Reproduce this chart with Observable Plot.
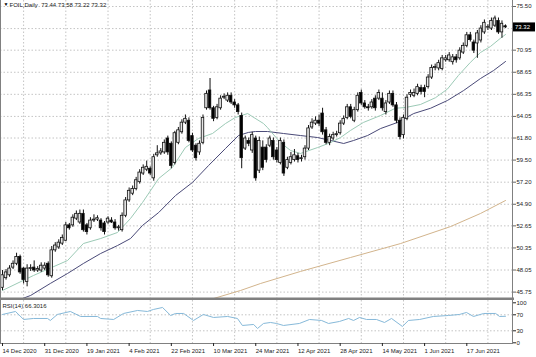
<!DOCTYPE html>
<html><head><meta charset="utf-8">
<script src="https://cdn.jsdelivr.net/npm/d3@7"></script>
<script src="https://cdn.jsdelivr.net/npm/@observablehq/plot@0.6"></script>
<style>
html,body{margin:0;padding:0;background:#fff;}
#wrap{position:relative;width:536px;height:357px;overflow:hidden;background:#fff;}
#wrap svg{display:block;}
</style></head><body><div id="wrap"></div>
<script>
// ---- data ----
const symbolTitle = "FOIL,Daily  73.44 73.58 73.22 73.32";
const rsiTitle = "RSI(14) 66.3016";
const opens = [46.2,47.2,47.5,48.3,48.7,49.4,48.2,46.8,48.15,48.3,48.0,48.0,48.2,48.7,47.4,50.1,50.4,50.8,51.1,52.7,
52.7,53.4,53.0,53.9,52.7,52.4,53.2,53.3,53.2,52.9,53.0,53.2,53.0,52.4,52.2,53.7,55.3,56.0,56.5,57.2,
58.1,58.5,58.6,57.6,60.0,60.2,60.3,61.75,61.2,59.2,61.3,62.4,63.4,63.6,62.0,61.0,60.3,61.3,64.9,66.75,
64.9,63.9,64.9,66.0,65.7,66.2,65.5,65.2,64.1,60.7,61.5,60.5,61.75,58.4,60.8,60.8,61.0,61.5,60.5,59.2,
61.3,58.7,59.2,59.5,59.9,59.6,59.8,60.7,62.9,63.3,63.6,64.35,62.6,61.3,61.75,62.1,62.3,63.3,63.9,65.0,
63.6,64.7,66.5,65.4,65.0,65.0,65.9,65.9,65.9,64.5,65.5,66.4,65.2,63.6,62.1,63.8,66.3,66.2,66.4,67.0,
67.0,67.1,68.1,69.1,69.05,69.0,69.9,69.9,69.7,70.2,70.1,70.7,71.4,72.5,71.75,71.65,71.96,72.8,73.3,73.2,
73.5,74.0,72.8,73.44];
const highs = [48.0,48.1,48.5,49.0,49.8,49.6,48.3,48.6,48.6,49.0,48.4,48.8,48.8,48.9,50.5,50.9,51.2,51.7,53.0,52.9,
53.8,54.2,54.3,54.3,52.9,53.5,53.8,53.7,53.4,53.1,53.6,53.5,53.3,52.7,54.0,55.6,56.6,56.8,57.7,58.5,
59.0,59.4,58.8,60.1,61.0,60.7,61.6,62.0,61.4,62.5,62.9,63.7,64.2,63.9,62.3,61.2,61.5,64.2,66.7,68.0,
65.1,65.3,66.2,66.4,66.5,66.5,65.8,65.4,64.4,62.0,61.8,62.4,62.0,61.9,61.5,61.1,62.0,61.8,60.8,61.8,
61.6,59.8,60.3,60.6,60.2,60.0,61.0,63.1,63.8,64.0,64.2,64.9,62.9,62.2,62.4,62.5,63.6,64.1,65.3,65.3,
65.0,66.5,66.8,65.7,65.3,65.8,66.2,66.8,66.5,65.7,66.7,66.7,65.5,63.9,64.2,66.3,66.8,66.9,67.4,67.3,
67.3,68.4,69.4,69.5,69.9,70.4,70.4,70.7,70.5,70.5,71.2,71.7,72.8,72.8,72.0,73.0,73.5,74.1,73.6,74.3,
74.5,74.3,74.0,73.58];
const lows = [45.9,47.0,47.3,48.1,48.5,47.6,46.6,46.3,47.9,47.8,47.8,47.8,48.0,47.3,47.2,49.9,50.2,50.6,51.0,52.2,
52.5,53.2,52.8,52.0,51.7,52.2,53.0,53.1,52.1,51.7,52.8,52.9,52.2,52.1,52.0,53.5,55.1,55.8,56.3,57.0,
57.9,58.3,57.9,57.3,59.8,60.0,60.1,60.0,58.6,59.0,61.1,62.2,63.2,61.3,60.3,59.4,60.0,61.1,64.7,64.7,
63.5,63.7,64.7,65.8,65.5,65.3,64.9,64.2,58.6,60.5,60.9,60.2,57.3,58.1,58.4,59.2,60.8,59.5,59.2,59.0,
57.8,58.5,59.0,59.3,59.2,59.3,59.5,60.5,62.7,63.1,63.0,62.1,61.1,61.0,61.5,61.9,62.1,63.1,63.7,63.8,
63.4,64.5,65.2,64.8,64.6,64.8,64.6,65.7,64.6,64.2,65.3,65.0,63.3,61.6,61.7,63.6,66.0,66.0,66.2,66.3,
66.0,66.9,67.9,68.8,68.8,68.8,69.7,69.7,69.4,69.6,69.9,70.5,71.2,71.8,70.6,70.1,71.7,72.6,73.0,73.0,
73.3,72.6,72.2,73.22];
const closes = [47.5,47.8,48.2,48.7,49.4,47.8,47.0,48.2,48.25,48.0,48.15,48.5,48.5,47.5,50.1,50.6,50.9,51.4,52.7,52.4,
53.5,53.9,53.9,52.2,52.0,53.2,53.3,53.45,52.4,52.0,53.4,53.0,52.4,52.5,53.7,55.3,56.3,56.5,57.4,58.2,
58.7,58.8,58.1,59.8,60.2,60.4,61.3,60.3,58.9,62.3,62.6,63.4,63.8,61.5,60.5,59.7,61.2,63.9,66.4,64.9,
63.8,65.0,65.9,66.1,66.2,65.5,65.2,64.5,59.7,61.75,61.2,62.1,57.6,61.5,58.7,59.5,61.75,59.8,59.5,61.5,
58.1,59.5,59.8,60.0,59.5,59.7,60.7,62.8,63.4,63.6,63.3,62.4,61.3,61.9,62.1,62.2,63.3,63.8,65.0,64.0,
64.7,66.2,65.4,65.0,64.9,65.5,64.9,66.5,64.9,65.4,66.4,65.2,63.6,61.9,63.9,66.0,66.5,66.5,67.1,66.6,
66.6,68.1,69.1,69.2,69.6,70.1,70.1,70.4,70.2,69.9,70.9,71.4,72.5,72.0,70.9,72.7,73.2,73.8,73.35,74.0,
74.25,72.8,73.7,73.32];
// moving averages: [bar index, price]
const fastMA = [[0,45.92],[8.8,47.48],[18.5,49.04],[23,50.81],[27.9,51.33],[32.7,51.96],[36.4,53.42],[39.8,55.08],
[44.4,57.58],[48.3,58.73],[52,60.81],[55.7,61.75],[59.7,62.27],[63.4,63.31],[66.2,63.94],[69.7,64.35],[71,64.04],
[74.2,63.31],[75.3,62.9],[79,61.33],[81.9,60.5],[84.7,60.19],[89.6,60.81],[93.3,61.33],[96.1,61.85],[98.9,62.58],
[102.6,63.42],[107.5,64.15],[111.7,64.9],[114.6,64.98],[118.8,65.29],[123.1,66.0],[126.5,66.9],[129.6,68.31],
[133,69.67],[135.9,70.71],[138.7,71.33],[141.5,72.17],[143,72.58]];
const slowMA = [[5.7,45.08],[8,45.4],[13.6,46.65],[18.5,47.69],[23,48.73],[27.9,49.77],[32.7,50.6],[36.4,51.33],
[39.8,52.69],[44.4,54.04],[49.2,55.81],[54,57.17],[58.6,58.94],[63.4,60.71],[67.1,62.06],[69.9,62.38],[71.9,62.48],
[75.3,62.48],[79.9,62.27],[84.7,62.06],[89.6,61.85],[93.3,61.54],[97,61.23],[99.8,61.54],[103.8,62.06],[107.5,62.79],
[112.3,63.42],[116.9,64.35],[121.7,64.9],[126.5,65.71],[131.1,66.75],[135.9,68.0],[139.6,68.83],[143,69.77]];
const longMA = [[60,45.08],[67.7,45.92],[73.4,46.65],[84.7,47.9],[98.9,49.35],[113.2,50.81],[127.4,52.58],[135.9,53.94],[143,55.29]];
const rsiValues = [[0,70.8],[3.7,78.3],[6,58.3],[8.8,60.8],[12.8,60.8],[13.6,55.8],[15.6,70.8],[19.3,78.3],[22.2,65.8],
[27,65.8],[27.9,60.8],[31.6,58.3],[34.4,73.3],[38.4,80.8],[41.2,78.3],[42.9,83.3],[45.5,88.3],[47.8,68.3],[49.2,73.3],
[51.5,73.3],[54.3,55.8],[57.1,70.8],[60,63.3],[64,65.8],[66.8,60.8],[68.2,43.3],[71.4,45.8],[72.5,35.8],[74.2,48.3],
[76.2,50.8],[77.9,48.3],[79.9,43.3],[84.4,48.3],[87.3,58.3],[90.7,55.8],[92.7,48.3],[95.8,53.3],[98.4,60.8],[99.8,55.8],
[101.5,63.3],[103.5,58.3],[106.3,58.3],[108.6,50.8],[110.6,60.8],[113.7,40.8],[115.4,55.8],[118.6,58.3],[122.5,65.8],
[126.8,68.3],[129.9,70.8],[131.9,75.8],[133.9,65.8],[136.8,73.3],[140.2,73.3],[141.3,65.8],[143,66.3]];
const priceTicks = [75.50,73.20,70.95,68.65,66.35,64.05,61.80,59.50,57.20,54.90,52.65,50.35,48.05,45.75];
const hiddenPriceTick = 73.20; // covered by the last-price marker
const rsiTicks = [100,70,30,0];
const dateLabels = ["14 Dec 2020","31 Dec 2020","19 Jan 2021","4 Feb 2021","22 Feb 2021","10 Mar 2021",
"24 Mar 2021","12 Apr 2021","28 Apr 2021","14 May 2021","1 Jun 2021","17 Jun 2021"];
const dateLabelBars = [0,12,24,36,48,60,72,84,96,108,120,132];
const gridBars = [6,18,30,42,54,66,78,90,102,114,126,138];
const lastPrice = 73.32;

// ---- build ----
const bars = opens.map((o,i)=>({i,o,h:highs[i],l:lows[i],c:closes[i],up:closes[i]>=o}));
const labelOf = new Map(dateLabelBars.map((b,k)=>[b,dateLabels[k]]));
const FONT = "'Liberation Sans', Arial, sans-serif";
const gridStyle = {stroke:"#c4c4c4", strokeDasharray:"1.5,2", strokeOpacity:1, strokeWidth:1};
const xScale = {type:"linear", domain:[0,143], range:[2,505]};

const main = Plot.plot({
  width:536, height:300, marginLeft:0, marginRight:24, marginTop:0, marginBottom:1.5,
  style:{fontFamily:FONT, fontSize:"6px", color:"#222", background:"#fff"},
  x:{...xScale, axis:null},
  y:{type:"linear", domain:[45.75,75.50], range:[291.6,6], axis:null},
  color:{type:"identity"},
  marks:[
    Plot.gridY(priceTicks, gridStyle),
    Plot.gridX(gridBars, gridStyle),
    Plot.line(longMA, {x:d=>d[0], y:d=>d[1], stroke:"#d2b48c", strokeWidth:1, clip:true}),
    Plot.line(slowMA, {x:d=>d[0], y:d=>d[1], stroke:"#4a4a78", strokeWidth:1, clip:true}),
    Plot.line(fastMA, {x:d=>d[0], y:d=>d[1], stroke:"#9ccab6", strokeWidth:1, clip:true}),
    Plot.ruleX(bars, {x:"i", y1:"l", y2:"h", stroke:"#111", strokeWidth:1}),
    Plot.rectY(bars, {x1:d=>d.i-0.36, x2:d=>d.i+0.36, y1:"o", y2:"c", fill:d=>d.up?"#e6e6e6":"#000", stroke:"#111", strokeWidth:0.8}),
    Plot.frame({stroke:"#808080", anchor:"left"}),
    Plot.frame({stroke:"#808080", anchor:"right"}),
    Plot.frame({stroke:"#808080", anchor:"bottom", strokeWidth:3}),
    Plot.axisY(priceTicks, {anchor:"right", tickSize:3, tickPadding:1, tickFormat:d=>d===hiddenPriceTick?"":d.toFixed(2), fontSize:6, stroke:"#666"}),
    Plot.text(["▼"], {frameAnchor:"top-left", dx:3, dy:2, fontSize:5, fill:"#000", textAnchor:"start"}),
    Plot.text([symbolTitle], {frameAnchor:"top-left", dx:9, dy:2, fontSize:6, fill:"#222", textAnchor:"start"})
  ]
});

const rsi = Plot.plot({
  width:536, height:57, marginLeft:0, marginRight:24, marginTop:0, marginBottom:14,
  style:{fontFamily:FONT, fontSize:"6px", color:"#222", background:"#fff"},
  x:{...xScale, axis:null},
  y:{type:"linear", domain:[0,100], range:[42.3,2.3], axis:null},
  marks:[
    Plot.gridY([70,30], gridStyle),
    Plot.gridX(gridBars, gridStyle),
    Plot.line(rsiValues, {x:d=>d[0], y:d=>d[1], stroke:"#86b9d9", strokeWidth:1}),
    Plot.frame({stroke:"#808080", anchor:"left"}),
    Plot.frame({stroke:"#808080", anchor:"right"}),
    Plot.frame({stroke:"#808080", anchor:"bottom"}),
    Plot.axisY(rsiTicks, {anchor:"right", tickSize:3, tickPadding:1, fontSize:6}),
    Plot.axisX(dateLabelBars, {anchor:"bottom", tickSize:3, tickPadding:2, textAnchor:"start", tickFormat:d=>labelOf.get(d), fontSize:6}),
    Plot.text([rsiTitle], {frameAnchor:"top-left", dx:2, dy:3, fontSize:6, fill:"#222", textAnchor:"start"})
  ]
});

const wrap = document.getElementById("wrap");
wrap.appendChild(main);
wrap.appendChild(rsi);

// last-price marker on the price axis, positioned with the chart's own y scale
const yS = main.scale("y");
const yp = yS.apply(lastPrice);
const svg = d3.select(main);
svg.append("rect").attr("x",513).attr("y",yp-4.5).attr("width",22).attr("height",9).attr("fill","#000");
svg.append("text").attr("x",515).attr("y",yp).attr("dy","0.35em").attr("fill","#fff")
  .attr("text-anchor","start").attr("font-size",6).attr("font-family",FONT).text(lastPrice.toFixed(2));
</script></body></html>
